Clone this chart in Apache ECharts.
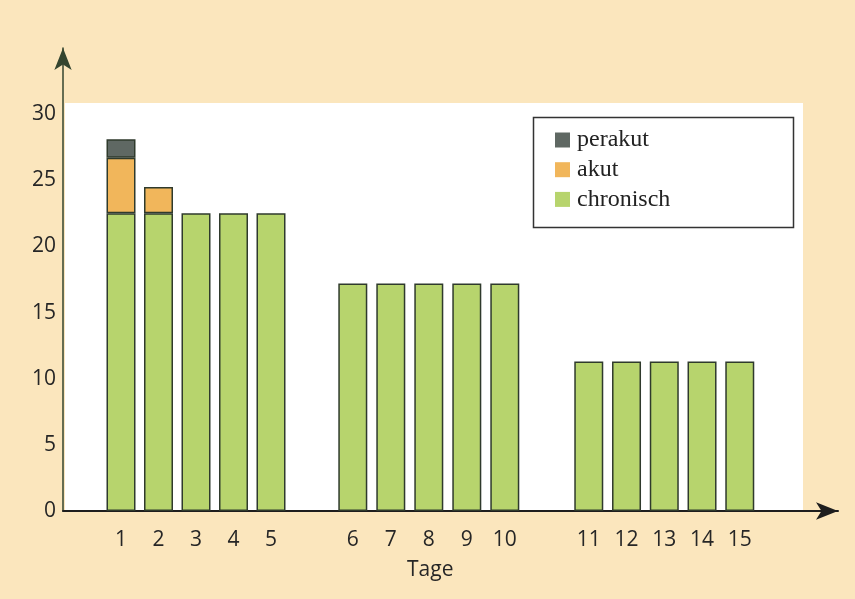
<!DOCTYPE html>
<html>
<head>
<meta charset="utf-8">
<script src="https://cdn.jsdelivr.net/npm/echarts@6/dist/echarts.min.js"></script>
<style>html,body{margin:0;padding:0;background:#fbe6bd;}#c{width:855px;height:599px;}</style>
</head>
<body>
<div id="c"></div>
<script>
// ---- data ----
var days = ['1','2','3','4','5','6','7','8','9','10','11','12','13','14','15'];
var chronisch = [22.5,22.5,22.5,22.5,22.5,17.2,17.2,17.2,17.2,17.2,11.3,11.3,11.3,11.3,11.3];
var akut      = [4.2,2.0,0,0,0,0,0,0,0,0,0,0,0,0,0];
var perakut   = [1.4,0,0,0,0,0,0,0,0,0,0,0,0,0,0];
var seriesNames = ['perakut','akut','chronisch'];
var yTicks = [0,5,10,15,20,25,30];
var xTitle = 'Tage';

// ---- layout ----
var groups = [[0,5],[5,10],[10,15]];
var groupLeft = [102.25, 333.8, 569.9];
var groupWidth = [187.5, 190, 188.75];
var TOP = 48, BOTTOM = 88, YMAX = 35;
var colors = {chronisch:'#b7d46d', akut:'#f1b65b', perakut:'#5f6863'};
var edge = '#2f3a2c';
var labelFont = 'Open Sans';

var grids = [{left:63, right:17, top:TOP, bottom:BOTTOM}];
var xAxes = [{gridIndex:0, type:'value', min:0, max:1,
  axisLine:{show:true, lineStyle:{color:'#1e1e1e', width:2}, symbol:['none','arrow'], symbolSize:[13,22]},
  axisTick:{show:false}, axisLabel:{show:false}, splitLine:{show:false}}];
var yAxes = [{gridIndex:0, type:'value', min:0, max:YMAX, interval:5,
  axisLine:{show:true, lineStyle:{color:'#34452f', width:1.5}, symbol:['none','arrow'], symbolSize:[13,22]},
  axisTick:{show:false}, splitLine:{show:false},
  axisLabel:{show:true, margin:7, color:'#262626', fontFamily:labelFont, fontSize:21,
    formatter:function(v){return yTicks.indexOf(v)>=0 ? String(v) : '';}, showMaxLabel:false}}];
var series = [];
function nz(a){return a.map(function(v){return v===0?null:v;});}
groups.forEach(function(g, i){
  var gi = i+1;
  grids.push({left:groupLeft[i], width:groupWidth[i], top:TOP, bottom:BOTTOM});
  xAxes.push({gridIndex:gi, type:'category', data:days.slice(g[0],g[1]),
    axisLine:{show:false}, axisTick:{show:false},
    axisLabel:{margin:19, color:'#262626', fontFamily:labelFont, fontSize:21}});
  yAxes.push({gridIndex:gi, type:'value', min:0, max:YMAX, show:false});
  [['chronisch',chronisch],['akut',akut],['perakut',perakut]].forEach(function(s){
    series.push({name:s[0], type:'bar', stack:'g'+gi, xAxisIndex:gi, yAxisIndex:gi,
      barWidth:29, data:nz(s[1]).slice(g[0],g[1]),
      itemStyle:{color:colors[s[0]], borderColor:edge, borderWidth:1.5}});
  });
});

var chart = echarts.init(document.getElementById('c'));
chart.setOption({
  backgroundColor:'#fbe6bd',
  animation:false,
  grid:grids, xAxis:xAxes, yAxis:yAxes, series:series,
  legend:{data:seriesNames, orient:'vertical', left:550, top:123, itemWidth:15, itemHeight:15, itemGap:5.7,
    icon:'rect', itemStyle:{borderWidth:0},
    textStyle:{fontFamily:'Liberation Serif', fontSize:24, lineHeight:24, color:'#222', padding:[0,0,0,2]}},
  graphic:[
    {type:'rect', z:-10, shape:{x:65, y:103, width:738, height:408}, style:{fill:'#ffffff'}},
    {type:'rect', z:10, shape:{x:533.5, y:117.5, width:260, height:110}, style:{fill:null, stroke:'#333', lineWidth:1.5}},
    {type:'text', left:407, top:560, style:{text:xTitle, font:'21px "Open Sans"', fill:'#262626'}}
  ]
});
</script>
</body>
</html>
